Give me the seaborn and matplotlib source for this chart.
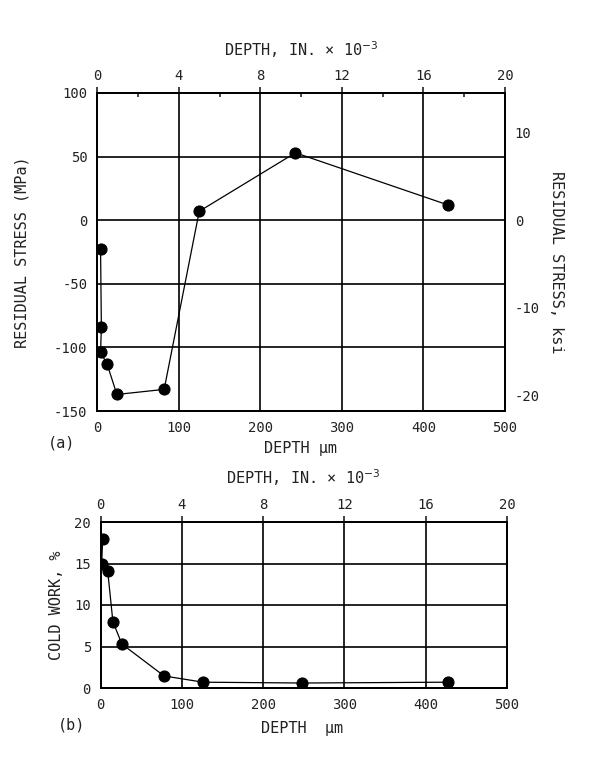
import matplotlib
matplotlib.use("Agg")
import matplotlib.pyplot as plt
import seaborn as sns
import pandas as pd

# (a) residual stress vs depth
depth_a = [4, 5, 4, 12, 24, 82, 125, 243, 430]
stress_a = [-23, -84, -104, -113, -137, -133, 7, 53, 12]

# (b) cold work vs depth
depth_b = [2.4, 1.2, 8.6, 15, 26, 78, 126, 248, 427]
cold_b = [18.0, 14.9, 14.1, 8.0, 5.3, 1.45, 0.7, 0.6, 0.7]

um_ticks = [0, 100, 200, 300, 400, 500]
in_ticks = [0, 4, 8, 12, 16, 20]
in_minor = [2, 6, 10, 14, 18]
mpa_ticks = [-150, -100, -50, 0, 50, 100]
ksi_ticks = [-20, -10, 0, 10]
cw_ticks = [0, 5, 10, 15, 20]
MPA_PER_KSI = 6.895

sns.set_style("white")
plt.rcParams['font.family'] = ['DejaVu Sans Mono', 'DejaVu Sans']
plt.rcParams['axes.unicode_minus'] = False

W, H = 594, 769
fig = plt.figure(figsize=(W / 100, H / 100), dpi=100)


def px_axes(l, t, r, b):
    return fig.add_axes([l / W, 1 - b / H, (r - l) / W, (b - t) / H])


def ftext(x, y, s, **kw):
    fig.text(x / W, 1 - y / H, s, ha='center', va='center', color='#222222', **kw)


def style(ax):
    for sp in ax.spines.values():
        sp.set_color('black')
        sp.set_linewidth(1.3)


def draw_panel(ax, x, y, ylim, yticks):
    df = pd.DataFrame({"depth": x, "val": y})
    sns.lineplot(data=df, x="depth", y="val", sort=False, estimator=None,
                 color='black', lw=0.9, marker='o', markersize=8,
                 markeredgecolor='black', ax=ax)
    ax.set_xlim(0, 500)
    ax.set_ylim(*ylim)
    ax.set_xticks(um_ticks)
    ax.set_yticks(yticks)
    ax.grid(True, color='black', lw=1.2)
    ax.tick_params(length=0, labelsize=10, pad=7, colors='#222222')
    ax.set_xlabel("")
    ax.set_ylabel("")
    style(ax)

    top = ax.twiny()
    top.set_xlim(0, 20)
    top.set_xticks(in_ticks)
    top.tick_params(which='major', direction='out', length=4, width=1.2,
                    pad=3, labelsize=10, colors='#222222')
    style(top)
    return top


# panel (a)
ax1 = px_axes(97.3, 93, 505, 411)
top1 = draw_panel(ax1, depth_a, stress_a, (-150, 100), mpa_ticks)
top1.set_xticks(in_minor, minor=True)
top1.tick_params(which='minor', direction='in', length=3, width=1.2)

right = ax1.twinx()
right.set_ylim(-150 / MPA_PER_KSI, 100 / MPA_PER_KSI)
right.set_yticks(ksi_ticks)
right.tick_params(length=0, pad=7, labelsize=10, colors='#222222')
style(right)

ftext(301, 50, "DEPTH, IN. \u00d7 10$^{-3}$", fontsize=11)
ftext(300, 448, "DEPTH \u03bcm", fontsize=11)
ftext(62, 443, "(a)", fontsize=11)
ftext(22, 252, "RESIDUAL STRESS (MPa)", fontsize=11, rotation=90)
ftext(557, 262, "RESIDUAL STRESS, ksi", fontsize=11, rotation=-90)

# panel (b)
ax2 = px_axes(100.7, 522, 507, 688)
draw_panel(ax2, depth_b, cold_b, (0, 20), cw_ticks)

ftext(303, 478, "DEPTH, IN. \u00d7 10$^{-3}$", fontsize=11)
ftext(302, 728, "DEPTH  \u03bcm", fontsize=11)
ftext(72, 725, "(b)", fontsize=11)
ftext(57, 605, "COLD WORK, %", fontsize=11, rotation=90)

fig.savefig("out.png", dpi=100)
